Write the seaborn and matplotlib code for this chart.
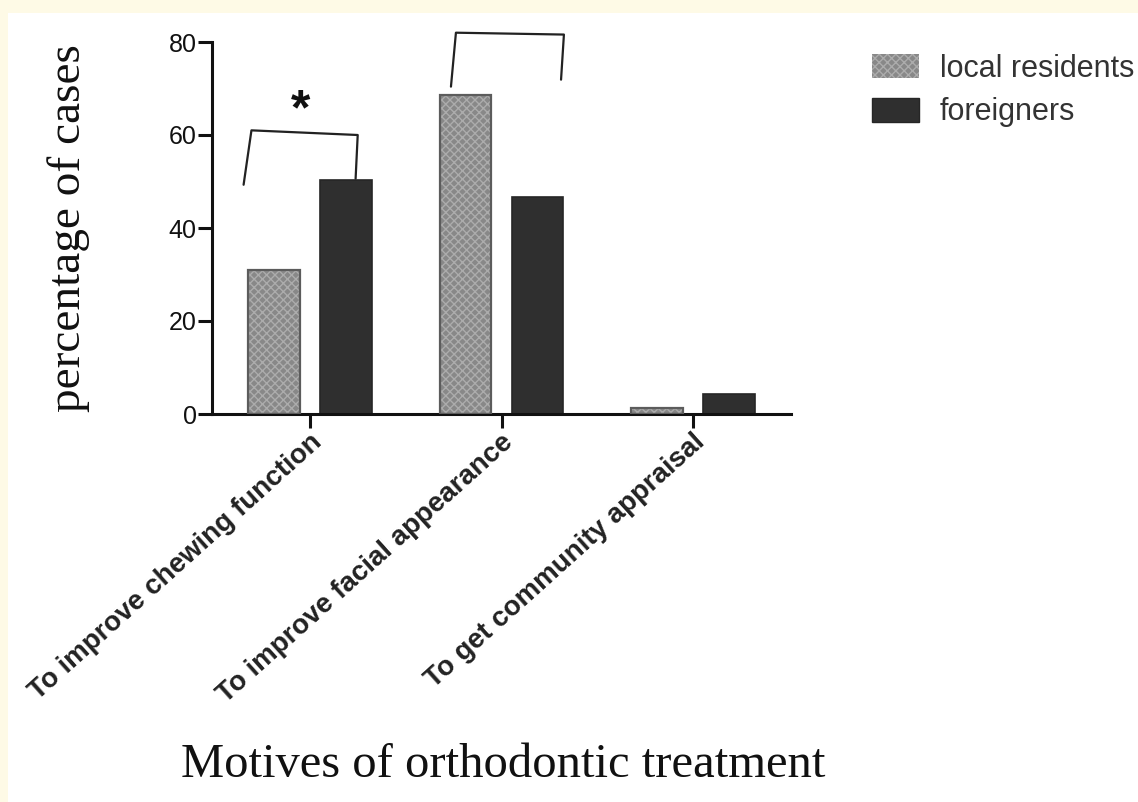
import matplotlib
matplotlib.use("Agg")
import matplotlib.pyplot as plt
from matplotlib.patches import Patch, Rectangle
from matplotlib.transforms import ScaledTranslation
import seaborn as sns
import pandas as pd

# Survey results: percentage of cases citing each motive
motives = [
    "To improve chewing function",
    "To improve facial appearance",
    "To get community appraisal",
]
groups = ["local residents", "foreigners"]
local_residents = [31.0, 68.6, 1.3]
foreigners = [50.3, 46.6, 4.3]

df = pd.DataFrame({
    "motive": motives * 2,
    "group": [groups[0]] * 3 + [groups[1]] * 3,
    "pct": local_residents + foreigners,
})

sns.set_theme(style="white")
plt.rcParams["font.family"] = ["Liberation Sans", "DejaVu Sans"]

LOCAL_FACE = "#888888"
LOCAL_EDGE = "#5c5c5c"
HATCH_COL = "#acacac"
FOREIGN_FACE = "#2f2f2f"
AX_COL = "#111111"

fig = plt.figure(figsize=(11.38, 8.02), dpi=100, facecolor="#fefae6")
# white page panel
fig.patches.append(Rectangle((8 / 1138, 0), 1.0, 1 - 13 / 802,
                             transform=fig.transFigure, facecolor="white",
                             edgecolor="none", zorder=-5))
ax = fig.add_axes([212 / 1138, 1 - 414 / 802, 579 / 1138, 372 / 802])
ax.set_facecolor("none")

sns.barplot(data=df, x="motive", y="pct", hue="group", order=motives,
            hue_order=groups, palette=[LOCAL_FACE, FOREIGN_FACE],
            width=0.752, gap=0.278, saturation=1, errorbar=None,
            legend=False, ax=ax)

plt.rcParams["hatch.linewidth"] = 1.0
local_bars, foreign_bars = ax.containers[0], ax.containers[1]
for p in local_bars:
    p.set_hatch("xxxx")
    p.set_edgecolor(HATCH_COL)
    p.set_linewidth(0)
    ax.add_patch(Rectangle(p.get_xy(), p.get_width(), p.get_height(),
                           fill=False, edgecolor=LOCAL_EDGE, lw=1.6, zorder=3))
for p in foreign_bars:
    p.set_edgecolor("#262626")
    p.set_linewidth(1.2)

ax.set_xlim(-0.512, 2.512)
ax.set_ylim(0, 80)
ax.set_yticks([0, 20, 40, 60, 80])
for s in ["top", "right"]:
    ax.spines[s].set_visible(False)
for s in ["left", "bottom"]:
    ax.spines[s].set_color(AX_COL)
    ax.spines[s].set_linewidth(2.2)
ax.tick_params(axis="y", which="major", left=True, length=10, width=2.2,
               color=AX_COL, labelsize=18, labelcolor="#111111", pad=1)
ax.tick_params(axis="x", which="major", bottom=True, length=10, width=2.2,
               color=AX_COL, pad=5)
ax.set_xticks(range(3))
ax.set_xticklabels(motives, rotation=42, ha="right", rotation_mode="anchor",
                   fontsize=20, fontweight="bold", color="#222222")
shift = ScaledTranslation(8 / 100, -4 / 100, fig.dpi_scale_trans)
for lbl in ax.get_xticklabels():
    lbl.set_verticalalignment("center")
    lbl.set_transform(lbl.get_transform() + shift)

ax.set_xlabel("Motives of orthodontic treatment", fontsize=35,
              family=["Liberation Serif", "DejaVu Serif"], color="#111111")
ax.xaxis.set_label_coords(0.503, -0.884)
ax.set_ylabel("percentage of cases", fontsize=34,
              family=["Liberation Serif", "DejaVu Serif"], color="#111111")
ax.yaxis.set_label_coords(-0.211, 0.5)

# significance brackets
ax.plot([-0.347, -0.306, 0.249, 0.238], [49.3, 61.0, 60.0, 50.6],
        color="#222222", lw=1.6, clip_on=False)
ax.text(-0.05, 65.0, "*", fontsize=36, fontweight="bold", ha="center",
        va="center", color="#111111")
ax.plot([0.736, 0.762, 1.326, 1.311], [70.4, 82.0, 81.6, 71.9],
        color="#222222", lw=1.6, clip_on=False)

handles = [Patch(facecolor=LOCAL_FACE, edgecolor=HATCH_COL, hatch="xxxx", lw=0),
           Patch(facecolor=FOREIGN_FACE, edgecolor="#262626")]
leg = fig.legend(handles, groups, loc="upper left",
                 bbox_to_anchor=(844 / 1138, 1 - 26 / 802), frameon=False,
                 fontsize=22, handlelength=1.54, handleheight=0.82,
                 handletextpad=0.69, labelspacing=0.45, labelcolor="#333333")

fig.savefig("out.png", dpi=100, facecolor=fig.get_facecolor())
